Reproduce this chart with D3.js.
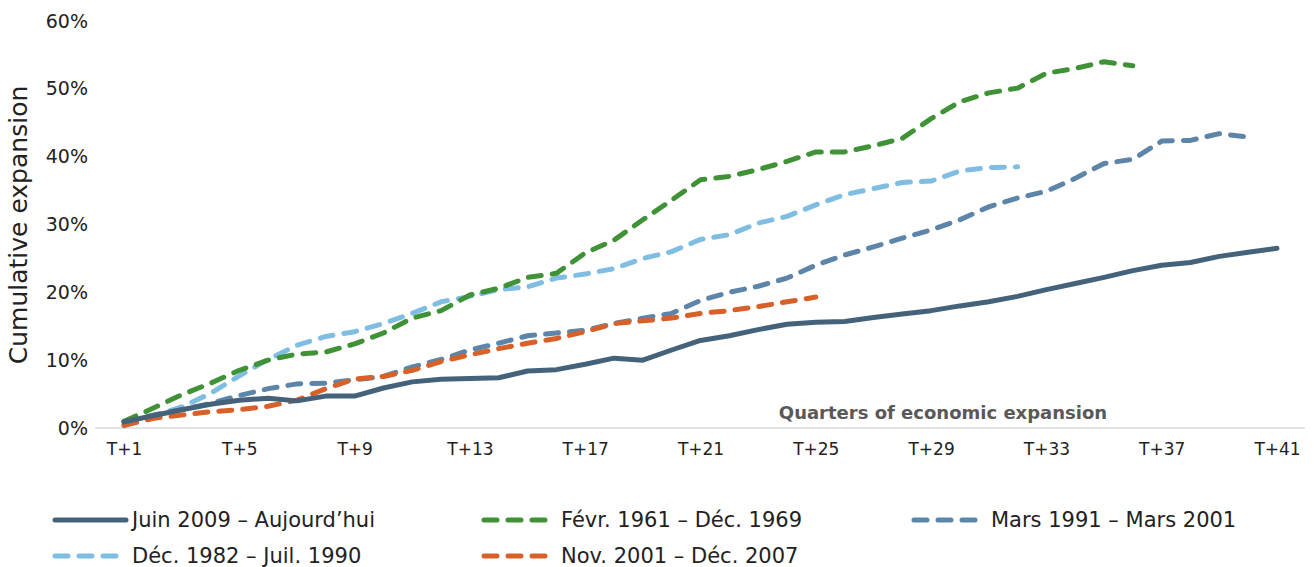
<!DOCTYPE html>
<html>
<head>
<meta charset="utf-8">
<script src="https://cdn.jsdelivr.net/npm/d3@7"></script>
<style>
  body { margin: 0; background: #fff; }
  text { font-family: "DejaVu Sans", sans-serif; }
</style>
</head>
<body>
<div id="chart"></div>
<script>
// quarters T+1 .. T+41
const quarters = d3.range(1, 42).map(i => "T+" + i);
const tickLabels = ["T+1", "T+5", "T+9", "T+13", "T+17", "T+21", "T+25", "T+29", "T+33", "T+37", "T+41"];
const yTicks = [0, 0.1, 0.2, 0.3, 0.4, 0.5, 0.6];

// cumulative expansion in %
const juin2009 = [0.9, 1.8, 2.7, 3.5, 4.1, 4.4, 4.0, 4.7, 4.7, 5.9, 6.8, 7.2, 7.3, 7.4, 8.4, 8.6, 9.4, 10.3, 10.0, 11.5,
  12.9, 13.6, 14.5, 15.3, 15.6, 15.7, 16.3, 16.8, 17.3, 18.0, 18.6, 19.4, 20.4, 21.3, 22.2, 23.2, 24.0, 24.4, 25.3, 25.9, 26.5];
const fevr1961 = [1.0, 2.9, 4.9, 6.6, 8.5, 10.0, 10.9, 11.2, 12.4, 14.0, 16.2, 17.3, 19.6, 20.6, 22.2, 22.8, 25.8, 27.7, 30.7, 33.6,
  36.6, 37.1, 38.1, 39.3, 40.7, 40.7, 41.6, 42.7, 45.6, 48.1, 49.4, 50.1, 52.3, 53.0, 54.0, 53.4];
const mars1991 = [0.9, 1.9, 2.7, 3.6, 4.8, 5.8, 6.5, 6.6, 7.1, 7.6, 9.0, 10.1, 11.5, 12.5, 13.6, 14.0, 14.4, 15.4, 16.2, 16.9,
  18.8, 20.0, 20.9, 22.1, 24.0, 25.5, 26.7, 28.0, 29.2, 30.7, 32.6, 33.9, 34.9, 36.8, 39.0, 39.6, 42.3, 42.4, 43.4, 42.9];
const dec1982 = [0.3, 1.7, 3.1, 5.1, 7.7, 10.1, 12.2, 13.5, 14.2, 15.4, 16.9, 18.6, 19.4, 20.4, 20.8, 22.1, 22.7, 23.5, 25.0, 26.0,
  27.8, 28.5, 30.2, 31.2, 32.9, 34.4, 35.3, 36.2, 36.4, 37.9, 38.4, 38.5];
const nov2001 = [0.4, 1.4, 1.9, 2.4, 2.7, 3.2, 4.1, 5.8, 7.2, 7.6, 8.5, 9.8, 10.8, 11.7, 12.5, 13.2, 14.2, 15.4, 15.8, 16.2,
  16.9, 17.3, 17.9, 18.6, 19.3];

const seriesNames = ["Juin 2009 – Aujourd’hui", "Févr. 1961 – Déc. 1969", "Mars 1991 – Mars 2001", "Déc. 1982 – Juil. 1990", "Nov. 2001 – Déc. 2007"];
const seriesValues = [juin2009, fevr1961, mars1991, dec1982, nov2001];
const colors = ["#44637b", "#3f9236", "#5d85a9", "#7fbde3", "#d8612a"];
const dashed = [false, true, true, true, true];

const width = 1314, height = 567;

const svg = d3.select("#chart")
  .append("svg")
  .attr("width", width)
  .attr("height", height)
  .attr("viewBox", [0, 0, width, height]);

const x = d3.scalePoint()
  .domain(quarters)
  .range([124, 1277]);

const y = d3.scaleLinear()
  .domain([0, 0.6])
  .range([428, 21]);

// y axis labels
const yAxis = d3.axisLeft(y)
  .tickValues(yTicks)
  .tickFormat(d3.format(".0%"))
  .tickSize(0)
  .tickPadding(0);

svg.append("g")
  .attr("transform", "translate(88,0)")
  .call(yAxis)
  .call(g => g.select(".domain").remove())
  .selectAll("text")
  .attr("font-size", 19)
  .attr("fill", "#222")
  .style("font-family", "DejaVu Sans, sans-serif");

// x axis
const xAxis = d3.axisBottom(x)
  .tickValues(tickLabels)
  .tickSize(0)
  .tickPadding(15);

svg.append("g")
  .attr("transform", "translate(0,428)")
  .call(xAxis)
  .call(g => g.select(".domain").remove())
  .selectAll("text")
  .attr("font-size", 17)
  .attr("fill", "#222")
  .style("font-family", "DejaVu Sans, sans-serif");

svg.append("line")
  .attr("x1", 95)
  .attr("x2", 1305)
  .attr("y1", y(0))
  .attr("y2", y(0))
  .attr("stroke", "#d9d9d9")
  .attr("stroke-width", 1.5);

// axis titles
svg.append("text")
  .attr("transform", "translate(27,225) rotate(-90)")
  .attr("text-anchor", "middle")
  .attr("font-size", 25)
  .attr("fill", "#222")
  .text("Cumulative expansion");

svg.append("text")
  .attr("x", 943)
  .attr("y", 419)
  .attr("text-anchor", "middle")
  .attr("font-size", 18)
  .attr("font-weight", "bold")
  .attr("fill", "#595959")
  .text("Quarters of economic expansion");

// lines
const line = d3.line()
  .x((d, i) => x(quarters[i]))
  .y(d => y(d / 100));

// draw order: bottom to top
const order = [3, 2, 4, 1, 0];
order.forEach(k => {
  svg.append("path")
    .datum(seriesValues[k])
    .attr("fill", "none")
    .attr("stroke", colors[k])
    .attr("stroke-width", 5)
    .attr("stroke-linecap", "round")
    .attr("stroke-linejoin", "round")
    .attr("stroke-dasharray", dashed[k] ? "13,11" : null)
    .attr("d", line);
});

// legend
const legendPos = [[55, 520], [484, 520], [914, 520], [55, 556], [484, 556]];

const legend = svg.selectAll(".legend")
  .data(seriesNames)
  .enter()
  .append("g")
  .attr("class", "legend")
  .attr("transform", (d, i) => `translate(${legendPos[i][0]},${legendPos[i][1]})`);

legend.append("line")
  .attr("x1", 0)
  .attr("x2", (d, i) => dashed[i] ? 67 : 71)
  .attr("y1", 0)
  .attr("y2", 0)
  .attr("stroke", (d, i) => colors[i])
  .attr("stroke-width", 5)
  .attr("stroke-linecap", "round")
  .attr("stroke-dasharray", (d, i) => dashed[i] ? "13,11" : null);

legend.append("text")
  .attr("x", 77)
  .attr("y", 0)
  .attr("dy", "0.35em")
  .attr("font-size", 21)
  .attr("fill", "#222")
  .text(d => d);
</script>
</body>
</html>
